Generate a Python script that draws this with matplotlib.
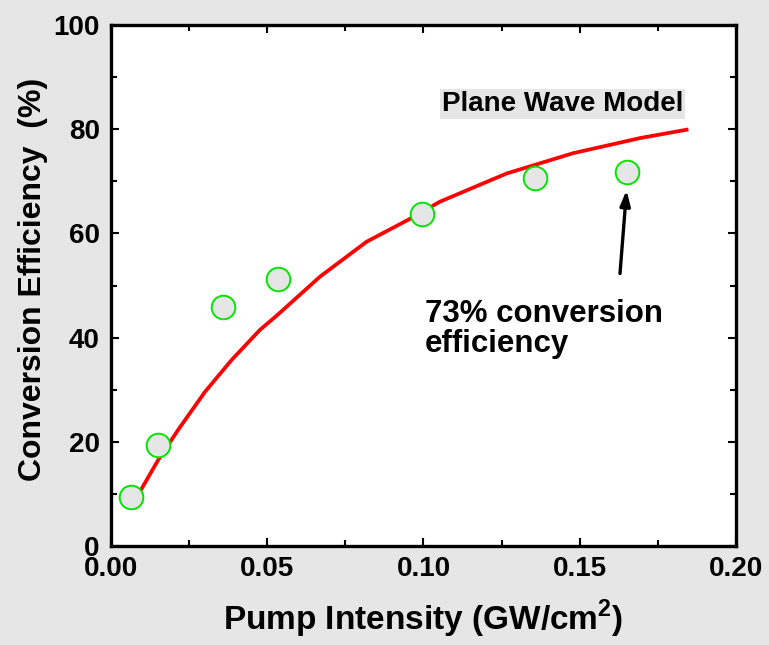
import matplotlib.pyplot as plt
from matplotlib.ticker import MultipleLocator

plt.rcParams['font.family'] = ['Liberation Sans', 'DejaVu Sans']
plt.rcParams['font.weight'] = 'bold'
plt.rcParams['mathtext.fontset'] = 'custom'
plt.rcParams['mathtext.bf'] = 'Liberation Sans:bold'
plt.rcParams['mathtext.rm'] = 'Liberation Sans:bold'

# measured points
pump = [0.0063, 0.0151, 0.0359, 0.0536, 0.0994, 0.1357, 0.165]
eff = [9.5, 19.4, 45.9, 51.2, 63.7, 70.7, 71.7]

# plane wave model curve
model_x = [0.0077, 0.0151, 0.0215, 0.0301, 0.0386, 0.0477, 0.053, 0.0669,
           0.0818, 0.0957, 0.1053, 0.1266, 0.1479, 0.1693, 0.1842]
model_y = [8.8, 16.5, 22.3, 29.6, 35.7, 41.5, 44.2, 51.7,
           58.4, 62.8, 66.1, 71.5, 75.4, 78.3, 79.9]

BG = '#e6e6e6'

fig = plt.figure(figsize=(7.69, 6.45), dpi=100, facecolor=BG)
ax = fig.add_axes([0.1443, 0.1535, 0.8127, 0.8077])
ax.set_facecolor('white')

ax.plot(model_x, model_y, color='#ff0000', lw=2.7, zorder=2,
        solid_joinstyle='round')
ax.plot(pump, eff, 'o', ms=17, mfc='#e6e6e6', mec='#00e600', mew=1.4, zorder=3)

ax.set_xlim(0, 0.20)
ax.set_ylim(0, 100)
ax.xaxis.set_major_locator(MultipleLocator(0.05))
ax.xaxis.set_minor_locator(MultipleLocator(0.025))
ax.yaxis.set_major_locator(MultipleLocator(20))
ax.yaxis.set_minor_locator(MultipleLocator(10))
ax.xaxis.set_major_formatter(lambda v, p: f'{v:.2f}')
ax.tick_params(which='both', direction='in', top=True, right=True, width=1.5,
               labelsize=20)
ax.tick_params(which='major', length=6)
ax.tick_params(which='minor', length=4)
ax.tick_params(axis='x', pad=7)
ax.tick_params(axis='y', pad=8)
for lbl in ax.get_xticklabels() + ax.get_yticklabels():
    lbl.set_fontweight('bold')
for s in ax.spines.values():
    s.set_linewidth(2.4)

ax.set_xlabel(r'Pump Intensity (GW/cm$^{\mathbf{2}}$)', fontsize=24, fontweight='bold')
ax.xaxis.set_label_coords(0.5, -0.1)
ax.set_ylabel('Conversion Efficiency  (%)', fontsize=23, fontweight='bold')
ax.yaxis.set_label_coords(-0.1, 0.512)

ax.text(0.1446, 84.9, 'Plane Wave Model', fontsize=20, fontweight='bold',
        ha='center', va='center',
        bbox=dict(facecolor=BG, edgecolor='none', pad=1.5))
ax.annotate('', xy=(0.165, 68.3), xytext=(0.1629, 52.3),
            arrowprops=dict(arrowstyle='-|>,head_width=0.3,head_length=0.9',
                            color='black', lw=2.4, shrinkA=0, shrinkB=0))
ax.text(0.1005, 43.0, '73% conversion', fontsize=22.5, fontweight='bold',
        ha='left', va='baseline')
ax.text(0.1005, 37.2, 'efficiency', fontsize=22.5, fontweight='bold',
        ha='left', va='baseline')

fig.savefig('out.png', dpi=100, facecolor=BG)
